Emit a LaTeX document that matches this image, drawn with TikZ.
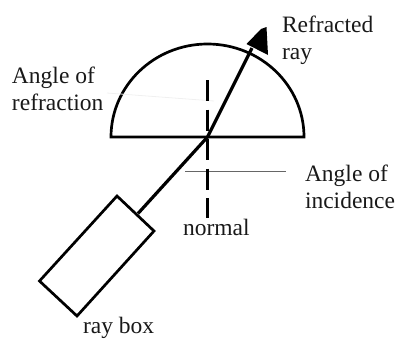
\documentclass[tikz,border=0pt]{standalone}
\usepackage{fontspec}
\setmainfont{Liberation Serif}
\begin{document}
\begin{tikzpicture}[x=1pt,y=-1pt,
  lbl/.style={inner sep=0pt,outer sep=0pt,anchor=north west,align=left,font=\fontsize{23.5}{27}\selectfont,text=black!90},
  outlinepart/.style={draw=black,line width=2.7pt,line join=miter},
  rayline/.style={draw=black,line width=3.2pt},
  normalline/.style={draw=black,line width=2.5pt,dash pattern=on 21pt off 8.5pt},
  leaderline/.style={draw=black!60,line width=0.9pt},
  faintline/.style={draw=black!6,line width=0.8pt},
  headshape/.style={fill=black}]
\useasboundingbox (0,0) rectangle (398,338);
% named points
\coordinate (hit) at (207.5,137);
\coordinate (tipA) at (261,29);
\coordinate (tipB) at (266.5,27);
\coordinate (headL) at (246.5,44);
\coordinate (headB) at (268,55);
\coordinate (headM) at (252,48);
\coordinate (boxT) at (117,196);
\coordinate (boxR) at (154,231);
\coordinate (boxB) at (77,316);
\coordinate (boxL) at (39.5,281);
\coordinate (boxExit) at (138,213.5);
\coordinate (normTop) at (207.5,80);
\coordinate (normBot) at (207.5,218);
\coordinate (incA) at (185,171);
\coordinate (incB) at (286,171);
\coordinate (refA) at (107,93);
\coordinate (refB) at (214,101);
% glass block
\draw[outlinepart] (111,137) -- (304,137) arc[start angle=0,end angle=-180,x radius=96.5,y radius=93] -- cycle;
% leaders
\draw[faintline] (refA) -- (refB);
\draw[leaderline] (incA) -- (incB);
% normal
\draw[normalline] (normTop) -- (normBot);
% ray
\draw[rayline,line join=round] (boxExit) -- (hit) -- (headM);
\fill[headshape] (tipA) -- (tipB) -- (headB) -- (headL) -- cycle;
% ray box
\draw[outlinepart] (boxT) -- (boxR) -- (boxB) -- (boxL) -- cycle;
% labels
\node[lbl] (refracted) at (282,16) {Refracted\\ray};
\node[lbl] (refraction) at (12,67) {Angle of\\refraction};
\node[lbl] (incidence) at (305,165) {Angle of\\incidence};
\node[lbl] (normal) at (183,219) {normal};
\node[lbl] (raybox) at (83,317) {ray box};
\end{tikzpicture}
\end{document}
